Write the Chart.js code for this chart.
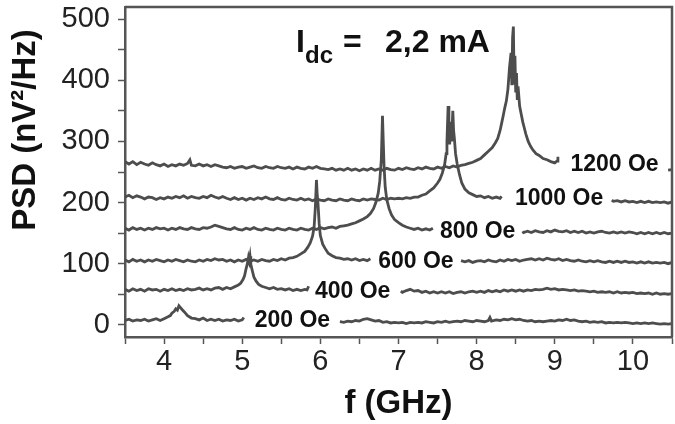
<!DOCTYPE html>
<html lang="en">
<head>
<meta charset="UTF-8">
<title>PSD spectra vs field</title>
<script src="https://cdn.jsdelivr.net/npm/chart.js"></script>
<style>
    body { margin: 0; background: #fff; }
    #psdChart { display: block; }
</style>
</head>
<body>
<canvas id="psdChart" width="675" height="424"></canvas>
<script>
// field of each spectrum, and where its label sits (GHz, nV²/Hz)
const fieldLabels = ['200 Oe', '400 Oe', '600 Oe', '800 Oe', '1000 Oe', '1200 Oe'];
const labelFreqs = [5.16, 5.93, 6.74, 7.53, 8.49, 9.2];
const labelLevels = [7, 54, 104, 153, 206, 262];

// tick labels
const xTickLabels = [4, 5, 6, 7, 8, 9, 10];
const yTickLabels = [0, 100, 200, 300, 400, 500];

// spectra: [f (GHz), PSD (nV²/Hz)], null = gap for the label
const s200 = [
    [3.50,7],[3.55,9],[3.60,6],[3.65,8],[3.70,7],[3.75,9],[3.80,6],[3.85,8],[3.90,10],[3.95,7],
    [4.00,10],[4.05,13],[4.08,15],[4.10,19],[4.13,22],[4.15,26],[4.17,24],[4.19,31],[4.21,28],[4.23,25],
    [4.26,21],[4.30,15],[4.35,11],[4.40,10],[4.45,8],[4.50,11],[4.55,7],[4.60,9],[4.65,7],[4.70,9],
    [4.75,6],[4.80,8],[4.85,7],[4.90,9],[4.95,6],[5.00,8],[5.02,12],[5.10,null],
    [6.25,5],[6.30,4],[6.35,6],[6.40,5],[6.45,7],[6.50,6],[6.55,9],[6.60,10],[6.65,8],[6.70,6],
    [6.75,7],[6.80,4],[6.85,5],[6.90,3],[6.95,4],[7.00,3],[7.05,4],[7.10,2],[7.15,4],[7.20,3],
    [7.25,4],[7.30,3],[7.35,5],[7.40,4],[7.45,3],[7.50,5],[7.55,4],[7.60,6],[7.65,4],[7.70,5],
    [7.75,6],[7.80,5],[7.85,7],[7.90,6],[7.95,5],[8.00,7],[8.05,6],[8.10,5],[8.15,7],[8.17,12],
    [8.19,6],[8.25,8],[8.30,7],[8.35,9],[8.40,8],[8.45,10],[8.50,8],[8.55,9],[8.60,7],[8.65,6],
    [8.70,7],[8.75,5],[8.80,6],[8.85,5],[8.90,6],[8.95,7],[9.00,6],[9.05,8],[9.10,7],[9.15,9],
    [9.20,7],[9.25,8],[9.30,6],[9.35,5],[9.40,6],[9.45,4],[9.50,5],[9.55,4],[9.60,5],[9.65,3],
    [9.70,4],[9.75,3],[9.80,4],[9.85,3],[9.90,4],[9.95,3],[10.00,2],[10.05,3],[10.10,2],[10.15,3],
    [10.20,2],[10.25,3],[10.30,2],[10.35,1],[10.40,2],[10.45,1],[10.50,2]
];

const s400 = [
    [3.50,58],[3.55,55],[3.60,59],[3.65,56],[3.70,58],[3.75,55],[3.80,59],[3.85,57],[3.90,58],[3.95,55],
    [4.00,58],[4.05,56],[4.10,59],[4.15,56],[4.20,58],[4.25,56],[4.30,59],[4.35,57],[4.40,58],[4.45,60],
    [4.50,57],[4.55,59],[4.60,57],[4.65,60],[4.70,61],[4.75,58],[4.80,61],[4.85,59],[4.90,62],[4.95,65],
    [4.98,68],[5.01,74],[5.03,80],[5.05,92],[5.07,102],[5.08,110],[5.09,104],[5.10,112],[5.11,99],[5.13,88],
    [5.15,78],[5.18,71],[5.21,66],[5.25,63],[5.30,61],[5.35,59],[5.40,61],[5.45,58],[5.50,59],[5.55,57],
    [5.60,59],[5.65,56],[5.70,58],[5.75,56],[5.80,58],[5.83,57],[5.85,63],[5.90,null],
    [7.03,55],[7.05,53],[7.10,56],[7.15,58],[7.20,55],[7.25,56],[7.30,53],[7.35,55],[7.40,52],[7.45,54],
    [7.50,52],[7.55,54],[7.60,52],[7.65,54],[7.70,51],[7.75,53],[7.80,54],[7.85,52],[7.90,54],[7.95,55],
    [8.00,53],[8.05,55],[8.10,53],[8.15,56],[8.20,54],[8.25,56],[8.30,54],[8.35,57],[8.40,55],[8.45,57],
    [8.50,55],[8.55,57],[8.60,55],[8.65,57],[8.70,56],[8.75,58],[8.80,57],[8.85,58],[8.90,60],[8.95,58],
    [9.00,59],[9.05,57],[9.10,58],[9.15,57],[9.20,56],[9.25,57],[9.30,55],[9.35,56],[9.40,55],[9.45,54],
    [9.50,55],[9.55,53],[9.60,54],[9.65,53],[9.70,54],[9.75,52],[9.80,54],[9.85,52],[9.90,53],[9.95,52],
    [10.00,53],[10.05,51],[10.10,52],[10.15,51],[10.20,52],[10.25,50],[10.30,52],[10.35,50],[10.40,51],[10.45,50],[10.50,51]
];

const s600 = [
    [3.50,106],[3.55,103],[3.60,107],[3.65,104],[3.70,106],[3.75,103],[3.80,106],[3.85,104],[3.90,107],[3.95,105],
    [4.00,103],[4.05,106],[4.10,104],[4.15,107],[4.20,105],[4.25,103],[4.30,106],[4.35,104],[4.40,103],[4.45,106],
    [4.50,104],[4.55,107],[4.60,105],[4.65,108],[4.70,106],[4.75,107],[4.80,104],[4.85,106],[4.90,103],[4.95,106],
    [5.00,104],[5.05,107],[5.10,104],[5.15,106],[5.20,104],[5.25,107],[5.30,105],[5.35,104],[5.40,107],[5.45,105],
    [5.50,108],[5.55,106],[5.60,109],[5.65,110],[5.70,112],[5.75,116],[5.80,120],[5.84,127],[5.87,134],[5.90,145],
    [5.92,160],[5.935,190],[5.95,237],[5.96,212],[5.97,198],[5.985,165],[6.00,146],[6.03,132],[6.06,125],[6.10,117],
    [6.15,113],[6.20,110],[6.25,109],[6.30,107],[6.35,108],[6.40,106],[6.45,108],[6.50,105],[6.55,107],[6.60,105],[6.64,108],[6.70,null],
    [7.80,105],[7.85,103],[7.90,105],[7.95,102],[8.00,104],[8.05,105],[8.10,103],[8.15,106],[8.20,104],[8.25,103],
    [8.30,106],[8.35,104],[8.40,107],[8.45,105],[8.50,107],[8.55,104],[8.60,106],[8.65,107],[8.70,108],[8.75,106],
    [8.80,108],[8.85,106],[8.90,109],[8.95,107],[9.00,106],[9.05,108],[9.10,105],[9.15,107],[9.20,105],[9.25,104],
    [9.30,106],[9.35,104],[9.40,103],[9.45,105],[9.50,103],[9.55,105],[9.60,103],[9.65,102],[9.70,104],[9.75,102],
    [9.80,104],[9.85,102],[9.90,104],[9.95,102],[10.00,103],[10.05,101],[10.10,103],[10.15,101],[10.20,103],[10.25,101],
    [10.30,102],[10.35,101],[10.40,102],[10.45,100],[10.50,102]
];

const s800 = [
    [3.50,158],[3.55,155],[3.60,159],[3.65,156],[3.70,158],[3.75,155],[3.80,158],[3.85,156],[3.90,159],[3.95,157],
    [4.00,158],[4.05,155],[4.10,158],[4.15,156],[4.20,159],[4.25,157],[4.30,156],[4.35,159],[4.40,157],[4.45,156],
    [4.50,159],[4.55,158],[4.60,160],[4.65,163],[4.70,161],[4.75,159],[4.80,157],[4.85,156],[4.90,159],[4.95,156],
    [5.00,155],[5.05,158],[5.10,156],[5.15,159],[5.20,156],[5.25,155],[5.30,158],[5.35,156],[5.40,155],[5.45,158],
    [5.50,156],[5.55,155],[5.60,158],[5.65,156],[5.70,155],[5.75,158],[5.80,156],[5.85,155],[5.90,158],[5.95,156],
    [6.00,159],[6.05,157],[6.10,159],[6.15,160],[6.20,158],[6.25,161],[6.30,162],[6.35,163],[6.40,165],[6.45,167],
    [6.50,170],[6.55,173],[6.60,177],[6.64,182],[6.68,190],[6.71,200],[6.74,215],[6.76,235],[6.78,270],[6.795,342],
    [6.805,300],[6.815,260],[6.83,225],[6.85,205],[6.88,190],[6.91,180],[6.95,172],[7.00,167],[7.05,163],[7.10,160],
    [7.15,158],[7.20,156],[7.25,158],[7.30,155],[7.35,157],[7.40,155],[7.44,158],[7.50,null],
    [8.59,153],[8.60,151],[8.65,153],[8.70,151],[8.75,154],[8.80,152],[8.85,151],[8.90,154],[8.95,152],[9.00,155],
    [9.05,153],[9.10,152],[9.15,154],[9.20,151],[9.25,153],[9.30,151],[9.35,153],[9.40,150],[9.45,152],[9.50,150],
    [9.55,152],[9.60,153],[9.65,151],[9.70,150],[9.75,152],[9.80,150],[9.85,152],[9.90,150],[9.95,152],[10.00,151],
    [10.05,149],[10.10,151],[10.15,149],[10.20,151],[10.25,149],[10.30,151],[10.35,149],[10.40,151],[10.45,149],[10.50,150]
];

const s1000 = [
    [3.50,209],[3.55,212],[3.60,208],[3.65,211],[3.70,209],[3.75,206],[3.80,209],[3.85,208],[3.90,205],[3.95,208],
    [4.00,206],[4.05,209],[4.10,207],[4.15,210],[4.20,208],[4.25,211],[4.30,207],[4.35,210],[4.40,208],[4.45,207],
    [4.50,210],[4.55,208],[4.60,212],[4.65,209],[4.70,207],[4.75,210],[4.80,207],[4.85,205],[4.90,208],[4.95,205],
    [5.00,207],[5.05,204],[5.10,207],[5.15,205],[5.20,208],[5.25,206],[5.30,209],[5.35,206],[5.40,205],[5.45,208],
    [5.50,205],[5.55,204],[5.60,207],[5.65,205],[5.70,204],[5.75,207],[5.80,204],[5.85,206],[5.90,203],[5.95,206],
    [6.00,204],[6.05,203],[6.10,206],[6.15,204],[6.20,203],[6.25,206],[6.30,204],[6.35,203],[6.40,206],[6.45,204],
    [6.50,203],[6.55,206],[6.60,204],[6.65,206],[6.70,205],[6.75,204],[6.80,207],[6.85,205],[6.90,207],[6.95,206],
    [7.00,207],[7.05,206],[7.10,208],[7.15,207],[7.20,209],[7.25,209],[7.30,212],[7.35,214],[7.40,219],[7.45,224],
    [7.50,232],[7.53,238],[7.56,248],[7.59,262],[7.61,280],[7.62,300],[7.635,358],[7.645,320],[7.655,295],[7.665,332],
    [7.68,300],[7.695,350],[7.705,318],[7.715,305],[7.73,280],[7.75,264],[7.78,246],[7.81,232],[7.85,222],[7.90,216],
    [7.95,213],[8.00,210],[8.05,211],[8.10,208],[8.15,210],[8.20,207],[8.25,209],[8.30,207],[8.32,210],[8.40,null],
    [9.73,204],[9.75,202],[9.80,203],[9.85,201],[9.90,203],[9.95,201],[10.00,202],[10.05,200],[10.10,202],[10.15,200],
    [10.20,202],[10.25,200],[10.30,201],[10.35,200],[10.40,201],[10.45,199],[10.50,201]
];

const s1200 = [
    [3.50,267],[3.55,263],[3.60,267],[3.65,262],[3.70,266],[3.75,263],[3.80,261],[3.85,265],[3.90,262],[3.95,260],
    [4.00,263],[4.05,259],[4.10,262],[4.15,260],[4.20,263],[4.25,261],[4.30,264],[4.33,270],[4.35,261],[4.40,260],
    [4.45,263],[4.50,260],[4.55,262],[4.60,259],[4.65,262],[4.70,260],[4.75,258],[4.80,257],[4.85,259],[4.90,256],
    [4.95,258],[5.00,259],[5.05,256],[5.10,258],[5.15,260],[5.20,257],[5.25,256],[5.30,259],[5.35,257],[5.40,256],
    [5.45,259],[5.50,257],[5.55,256],[5.60,258],[5.65,255],[5.70,258],[5.75,256],[5.80,255],[5.85,258],[5.90,256],
    [5.95,259],[6.00,256],[6.05,255],[6.10,254],[6.15,256],[6.20,253],[6.25,255],[6.30,253],[6.35,256],[6.40,253],
    [6.45,255],[6.50,252],[6.55,255],[6.60,253],[6.65,256],[6.70,253],[6.75,255],[6.80,253],[6.85,256],[6.90,254],
    [6.95,253],[7.00,256],[7.05,254],[7.10,257],[7.15,255],[7.20,254],[7.25,257],[7.30,255],[7.35,258],[7.40,256],
    [7.45,255],[7.50,258],[7.55,256],[7.60,259],[7.65,257],[7.70,260],[7.75,258],[7.80,261],[7.85,262],[7.90,264],
    [7.95,266],[8.00,269],[8.05,272],[8.10,278],[8.15,284],[8.20,290],[8.24,298],[8.27,305],[8.30,318],[8.32,330],
    [8.34,342],[8.36,355],[8.38,366],[8.40,385],[8.42,420],[8.44,445],[8.45,392],[8.46,470],[8.47,488],[8.48,395],
    [8.49,440],[8.50,380],[8.51,412],[8.52,368],[8.53,390],[8.55,358],[8.57,345],[8.59,332],[8.61,322],[8.63,312],
    [8.66,300],[8.69,292],[8.72,286],[8.76,280],[8.80,277],[8.85,272],[8.90,270],[8.95,267],[9.00,265],[9.03,268],
    [9.04,275],[9.10,null],[10.45,253],[10.50,254]
];

const spectra = [s200, s400, s600, s800, s1000, s1200];

const fontFamily = '"Liberation Sans", Arial, Helvetica, sans-serif';
const lineColor = '#4d4d4d';
const axisColor = '#555555';

// top/right frame, labels and axis titles drawn on top of the lines
const textPlugin = {
    id: 'psdText',
    afterDraw(chart) {
        const c = chart.ctx;
        const area = chart.chartArea;
        const xs = chart.scales.x, ys = chart.scales.y;
        c.save();

        // top and right sides of the box (left and bottom are the axis borders)
        c.beginPath();
        c.strokeStyle = axisColor;
        c.lineWidth = 2.5;
        c.moveTo(area.left, area.top);
        c.lineTo(area.right, area.top);
        c.lineTo(area.right, area.bottom);
        c.stroke();

        c.fillStyle = '#111';

        // field labels next to each trace
        c.font = 'bold 23px ' + fontFamily;
        c.textAlign = 'left';
        c.textBaseline = 'middle';
        fieldLabels.forEach((t, i) => {
            c.fillText(t, xs.getPixelForValue(labelFreqs[i]), ys.getPixelForValue(labelLevels[i]));
        });

        // I_dc = 2,2 mA
        c.textBaseline = 'alphabetic';
        c.font = 'bold 32px ' + fontFamily;
        c.fillText('I', 296, 52);
        c.font = 'bold 24px ' + fontFamily;
        c.fillText('dc', 305, 63);
        c.font = 'bold 32px ' + fontFamily;
        c.fillText('=', 343, 52);
        c.fillText('2,2 mA', 385, 52);

        // axis titles
        c.font = 'bold 33px ' + fontFamily;
        c.textAlign = 'center';
        c.fillText('f (GHz)', (area.left + area.right) / 2, 413);
        c.translate(35, 130);
        c.rotate(-Math.PI / 2);
        c.fillText('PSD (nV²/Hz)', 0, 0);

        c.restore();
    }
};

const ctx = document.getElementById('psdChart').getContext('2d');
new Chart(ctx, {
    type: 'line',
    data: {
        datasets: spectra.map((s, i) => ({
            label: fieldLabels[i],
            data: s.map(p => ({ x: p[0], y: p[1] })),
            borderColor: lineColor,
            borderWidth: 2.8,
            pointRadius: 0,
            tension: 0,
            spanGaps: false
        }))
    },
    options: {
        responsive: false,
        animation: false,
        layout: { padding: { top: 7, right: 3, left: 0, bottom: 0 } },
        plugins: { legend: { display: false }, tooltip: { enabled: false } },
        scales: {
            x: {
                type: 'linear',
                min: 3.5,
                max: 10.5,
                afterFit: scale => {
                    scale.height = 87;
                    scale.paddingLeft = 0;
                    scale.paddingRight = 0;
                },
                border: { display: true, color: axisColor, width: 2.5 },
                grid: { drawOnChartArea: false, tickLength: 7, tickColor: axisColor, tickWidth: 1.5 },
                ticks: {
                    stepSize: 0.5,
                    autoSkip: false,
                    maxRotation: 0,
                    padding: 1,
                    color: '#222',
                    font: { family: fontFamily, size: 29 },
                    callback: v => xTickLabels.includes(v) ? String(v) : ''
                }
            },
            y: {
                type: 'linear',
                min: -20,
                max: 520,
                afterFit: scale => {
                    scale.width = 125;
                    scale.paddingTop = 0;
                    scale.paddingBottom = 0;
                },
                border: { display: true, color: axisColor, width: 2.5 },
                grid: { drawOnChartArea: false, tickLength: 7, tickColor: axisColor, tickWidth: 1.5 },
                ticks: {
                    stepSize: 50,
                    includeBounds: false,
                    autoSkip: false,
                    padding: 8,
                    color: '#222',
                    font: { family: fontFamily, size: 29 },
                    callback: v => yTickLabels.includes(v) ? String(v) : ''
                }
            }
        }
    },
    plugins: [textPlugin]
});
</script>
</body>
</html>
